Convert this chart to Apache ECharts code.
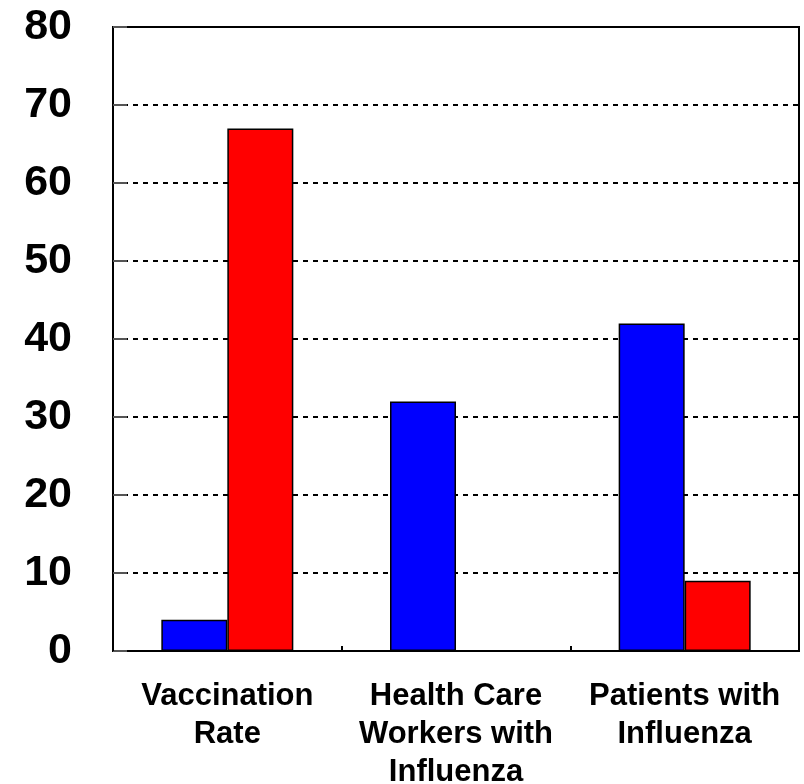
<!DOCTYPE html>
<html>
<head>
<meta charset="utf-8">
<script src="https://cdn.jsdelivr.net/npm/echarts@6/dist/echarts.min.js"></script>
<style>html,body{margin:0;padding:0;background:#fff}#c{width:804px;height:784px}</style>
</head>
<body>
<div id="c"></div>
<script>
var categories = ['Vaccination\nRate', 'Health Care\nWorkers with\nInfluenza', 'Patients with\nInfluenza'];
var seriesBlue = [4, 32, 42];
var seriesRed = [67, 0, 9];
var yTicks = [0, 10, 20, 30, 40, 50, 60, 70, 80];

var chart = echarts.init(document.getElementById('c'), null, {renderer: 'canvas'});
chart.setOption({
  animation: false,
  backgroundColor: '#fff',
  grid: {left: 113, top: 27, width: 686, height: 624, outerBoundsMode: 'none', containLabel: false,
         show: true, borderColor: '#000', borderWidth: 2, backgroundColor: 'transparent'},
  xAxis: {
    type: 'category',
    data: categories,
    axisLine: {lineStyle: {color: '#000', width: 2}},
    axisTick: {show: true, inside: true, length: 5, interval: 0, lineStyle: {color: '#000', width: 2}},
    axisLabel: {
      interval: 0, margin: 26, color: '#000',
      fontFamily: 'Liberation Sans, Arial, sans-serif', fontWeight: 'bold', fontSize: 31, lineHeight: 38
    },
    splitLine: {show: false}
  },
  yAxis: {
    type: 'value', min: yTicks[0], max: yTicks[yTicks.length - 1], interval: 10,
    axisLine: {show: true, lineStyle: {color: '#000', width: 2}},
    axisTick: {show: true, inside: true, length: 14, lineStyle: {color: '#555', width: 2}},
    axisLabel: {
      margin: 41, color: '#000',
      fontFamily: 'Liberation Sans, Arial, sans-serif', fontWeight: 'bold', fontSize: 43
    },
    splitLine: {show: true, lineStyle: {color: '#000', width: 2, type: [5, 5]}}
  },
  series: [
    {type: 'bar', data: seriesBlue, barWidth: 66, barGap: '0%',
     itemStyle: {color: '#0000FF', borderColor: '#000', borderWidth: 1.5}},
    {type: 'bar', data: seriesRed, barWidth: 66, barGap: '0%',
     itemStyle: {color: '#FF0000', borderColor: '#000', borderWidth: 1.5}}
  ]
});
</script>
</body>
</html>
